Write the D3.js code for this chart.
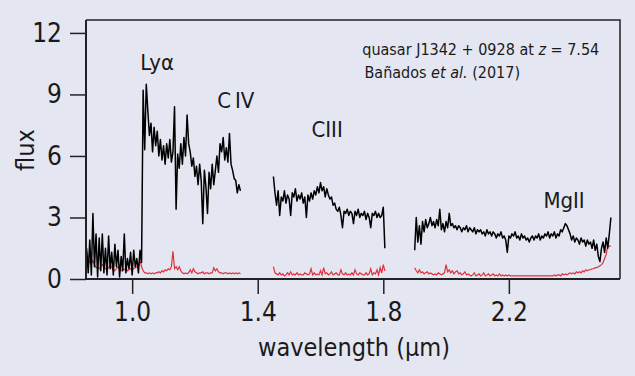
<!DOCTYPE html>
<html>
<head>
<meta charset="utf-8">
<script src="https://cdn.jsdelivr.net/npm/d3@7"></script>
<style>
  body { margin: 0; background: #e4e7f2; }
  text { font-family: "Liberation Sans Narrow", "DejaVu Sans Condensed", "Roboto", sans-serif; fill: #1a1a1a; }
</style>
</head>
<body>
<div id="main"></div>
<script>
// spectrum sampled every 0.005 micron, three pieces separated by telluric gaps
var step = 0.005;

var startA = 0.855;
var blackA = [
    1.5, 0.3, 1.9, 0.2, 3.2, 0.6, 2.2, 0.1, 2.0, 0.4,
    2.2, 0.3, 1.5, 0.2, 2.1, 0.5, 1.3, 0.2, 1.7, 0.6,
    1.4, 0.1, 1.1, 0.4, 2.2, 0.3, 1.0, 0.5, 1.3, 0.2,
    1.4, 0.6, 1.0, 0.3, 1.4, 0.8,
    9.2, 6.3, 9.5, 8.2, 7.0, 7.6, 6.2, 7.4, 6.5, 7.2,
    6.0, 6.8, 5.8, 6.5, 5.6, 6.6, 5.9, 6.8, 5.7, 6.2,
    8.4, 3.4, 6.1, 5.4, 6.6, 5.6, 6.9, 6.0, 8.0, 6.6,
    6.2, 5.5, 5.9, 5.0, 5.5, 4.6, 5.6, 4.8, 2.7, 5.3,
    4.5, 3.2, 5.2, 4.4, 5.6, 4.6, 5.3, 6.0, 5.2, 6.6,
    6.2, 6.9, 5.8, 6.4, 5.7, 7.1, 5.6, 5.3, 4.9, 4.8,
    4.2, 4.6, 4.3
];
var redA = [
    1.35, 1.0, 0.8, 0.75, 0.9, 0.7, 0.55, 0.6, 0.5, 0.6,
    0.7, 0.6, 0.5, 0.45, 0.55, 0.7, 0.55, 0.45, 0.4, 0.5,
    0.6, 0.45, 0.4, 0.5, 0.45, 0.55, 0.4, 0.45, 0.5, 0.45,
    0.5, 0.55, 0.6, 0.7, 0.9, 0.6,
    0.4, 0.3, 0.3, 0.25, 0.3, 0.25, 0.3, 0.25, 0.3, 0.3,
    0.35, 0.3, 0.4, 0.35, 0.45, 0.4, 0.5, 0.45, 0.6, 1.35,
    0.5, 0.6, 0.45, 0.6, 0.4, 0.3, 0.25, 0.3, 0.25, 0.3,
    0.45, 0.3, 0.5, 0.35, 0.3, 0.25, 0.3, 0.3, 0.35, 0.25,
    0.3, 0.3, 0.25, 0.3, 0.3, 0.55, 0.4, 0.5, 0.35, 0.3,
    0.3, 0.25, 0.3, 0.3, 0.25, 0.3, 0.25, 0.3, 0.25, 0.3,
    0.25, 0.3, 0.25
];

var startB = 1.45;
var blackB = [
    5.0, 4.2, 3.6, 4.3, 3.1, 4.0, 3.8, 4.3, 3.7, 4.1,
    3.9, 3.1, 4.2, 4.0, 4.4, 3.8, 4.1, 3.9, 4.2, 3.7,
    4.0, 3.0, 4.1, 3.8, 4.2, 3.9, 4.3, 4.1, 4.5, 4.2,
    4.7, 4.3, 4.5, 4.0, 4.4, 4.1, 3.9, 4.0, 3.6, 3.7,
    3.4, 3.3, 3.5, 3.1, 2.5, 3.3, 3.2, 3.4, 3.1, 3.3,
    3.2, 2.7, 3.3, 3.1, 3.4, 3.0, 3.2, 3.1, 3.3, 2.9,
    3.2, 3.0, 2.5, 3.2, 3.1, 3.3, 3.0, 3.2, 3.0, 3.1,
    3.5, 1.5
];
var redB = [
    0.6, 0.3, 0.25, 0.2, 0.3, 0.2, 0.25, 0.15, 0.2, 0.3,
    0.2, 0.35, 0.2, 0.25, 0.2, 0.3, 0.2, 0.25, 0.2, 0.2,
    0.3, 0.25, 0.2, 0.25, 0.5, 0.2, 0.3, 0.2, 0.25, 0.2,
    0.4, 0.2, 0.55, 0.25, 0.3, 0.2, 0.25, 0.35, 0.2, 0.25,
    0.3, 0.2, 0.2, 0.45, 0.25, 0.2, 0.3, 0.2, 0.25, 0.2,
    0.3, 0.2, 0.45, 0.25, 0.2, 0.3, 0.25, 0.2, 0.2, 0.3,
    0.2, 0.25, 0.5, 0.2, 0.3, 0.25, 0.45, 0.2, 0.55, 0.3,
    0.7, 0.4
];

var startC = 1.9;
var blackC = [
    1.4, 3.0, 1.8, 2.6, 1.7, 2.8, 2.3, 2.9, 2.5, 2.7,
    3.0, 2.6, 2.8, 2.5, 2.9, 2.6, 3.4, 2.4, 2.7, 2.3,
    2.8, 2.5, 3.2, 2.6, 2.7, 2.5, 2.6, 2.4, 2.6, 2.5,
    2.3, 2.5, 2.4, 2.6, 2.3, 2.5, 2.4, 2.3, 2.5, 2.2,
    2.4, 2.3, 2.4, 2.2, 2.3, 2.1, 2.4, 2.2, 2.3, 2.1,
    2.3, 2.2, 2.0, 2.2, 2.1, 2.3, 2.0, 2.1, 1.9, 1.3,
    2.1, 2.0, 2.2, 2.1, 2.3, 2.0, 2.1, 1.9, 2.2, 2.0,
    2.1, 1.9, 2.0, 1.8, 2.0, 2.1, 1.9, 2.1, 2.0, 2.2,
    1.9, 2.1, 2.0, 2.2, 2.1, 2.3, 2.0, 2.2, 2.1, 2.3,
    2.0, 2.2, 2.1, 2.4, 2.3, 2.5, 2.7, 2.6, 2.4, 2.2,
    1.9, 2.1, 1.8, 2.0, 1.9, 1.7, 2.0, 1.8, 1.9, 1.6,
    1.9, 1.7, 1.8, 1.5, 1.9, 1.4, 1.7, 1.1, 0.85, 1.5,
    1.8, 1.3, 2.0, 1.5, 2.2, 3.0
];
var redC = [
    0.55, 0.4, 0.3, 0.45, 0.3, 0.35, 0.25, 0.3, 0.35, 0.25,
    0.3, 0.25, 0.2, 0.25, 0.2, 0.3, 0.25, 0.2, 0.25, 0.3,
    0.7, 0.35, 0.45, 0.3, 0.4, 0.25, 0.35, 0.4, 0.25, 0.3,
    0.2, 0.25, 0.35, 0.2, 0.25, 0.2, 0.15, 0.2, 0.3, 0.15,
    0.2, 0.25, 0.15, 0.2, 0.3, 0.15, 0.2, 0.25, 0.15, 0.2,
    0.25, 0.15, 0.2, 0.15, 0.25, 0.15, 0.2, 0.15, 0.2, 0.15,
    0.2, 0.15, 0.15, 0.15, 0.15, 0.15, 0.15, 0.15, 0.15, 0.15,
    0.15, 0.15, 0.15, 0.15, 0.15, 0.15, 0.15, 0.15, 0.15, 0.15,
    0.15, 0.15, 0.15, 0.15, 0.15, 0.15, 0.15, 0.15, 0.15, 0.2,
    0.15, 0.2, 0.2, 0.15, 0.25, 0.2, 0.25, 0.2, 0.25, 0.3,
    0.25, 0.3, 0.25, 0.35, 0.3, 0.35, 0.3, 0.4, 0.35, 0.45,
    0.4, 0.45, 0.45, 0.5, 0.5, 0.55, 0.55, 0.6, 0.65, 0.7,
    0.8, 1.0, 1.2, 1.6, 1.6, 1.6
];

var xTicks = [1.0, 1.4, 1.8, 2.2];
var xTickLabels = ["1.0", "1.4", "1.8", "2.2"];
var yTicks = [0, 3, 6, 9, 12];

var ctx = {
    w: 635,
    h: 376,
    left: 86, right: 620, top: 20, bottom: 279,
    xMin: 0.853, xMax: 2.554,
    yMax: 12.63
};

var toPoints = function (start, vals) {
    return vals.map(function (v, i) { return [start + i * step, v]; });
};

var createViz = function () {
    var svg = d3.select("#main").append("svg")
        .attr("width", ctx.w)
        .attr("height", ctx.h);

    svg.append("rect").attr("width", ctx.w).attr("height", ctx.h).attr("fill", "#e4e7f2");

    var x = d3.scaleLinear().domain([ctx.xMin, ctx.xMax]).range([ctx.left, ctx.right]);
    var y = d3.scaleLinear().domain([0, ctx.yMax]).range([ctx.bottom, ctx.top]);

    var line = d3.line()
        .x(function (d) { return x(d[0]); })
        .y(function (d) { return y(d[1]); });

    var pieces = [
        [startA, blackA, redA],
        [startB, blackB, redB],
        [startC, blackC, redC]
    ];

    pieces.forEach(function (p) {
        svg.append("path")
            .datum(toPoints(p[0], p[2]))
            .attr("d", line)
            .attr("fill", "none")
            .attr("stroke", "#e0303a")
            .attr("stroke-width", 1.2);
    });
    pieces.forEach(function (p) {
        svg.append("path")
            .datum(toPoints(p[0], p[1]))
            .attr("d", line)
            .attr("fill", "none")
            .attr("stroke", "#000")
            .attr("stroke-width", 1.5)
            .attr("stroke-linejoin", "round");
    });

    // frame
    svg.append("path")
        .attr("d", "M" + ctx.left + "," + ctx.top + "H" + ctx.right + "V" + ctx.bottom)
        .attr("fill", "none").attr("stroke", "#222").attr("stroke-width", 1.5);

    var yAxis = svg.append("g")
        .attr("transform", "translate(" + ctx.left + ",0)")
        .call(d3.axisLeft(y).tickValues(yTicks).tickSize(16).tickPadding(8).tickSizeOuter(0));
    var xAxis = svg.append("g")
        .attr("transform", "translate(0," + ctx.bottom + ")")
        .call(d3.axisBottom(x).tickValues(xTicks).tickFormat(function (d, i) { return xTickLabels[i]; })
            .tickSize(15).tickPadding(9).tickSizeOuter(0));

    [yAxis, xAxis].forEach(function (a) {
        a.select(".domain").attr("stroke", "#222").attr("stroke-width", 2);
        a.selectAll(".tick line").attr("stroke", "#222").attr("stroke-width", 1.5);
        a.selectAll(".tick text").style("font-size", "26px").attr("fill", "#1a1a1a");
    });
    yAxis.select(".domain").attr("d", "M0," + ctx.top + "V" + ctx.bottom);
    xAxis.select(".domain").attr("d", "M" + ctx.left + ",0H" + ctx.right);

    svg.append("text")
        .attr("transform", "translate(34,150) rotate(-90)")
        .attr("text-anchor", "middle")
        .style("font-size", "25px")
        .text("flux");

    svg.append("text")
        .attr("x", 354).attr("y", 356)
        .attr("text-anchor", "middle")
        .style("font-size", "25px")
        .text("wavelength (\u03bcm)");

    // emission line labels
    var lab = function (wl, f, s) {
        svg.append("text").attr("x", x(wl)).attr("y", y(f)).style("font-size", "22px").text(s);
    };
    lab(1.026, 10.2, "Ly\u03b1");
    lab(1.271, 8.34, "C\u2009IV");
    lab(1.571, 6.93, "CIII");
    lab(2.31, 3.46, "MgII");

    var t1 = svg.append("text").attr("x", x(1.733)).attr("y", y(10.93)).style("font-size", "16px");
    t1.append("tspan").text("quasar J1342 + 0928 at ");
    t1.append("tspan").style("font-style", "italic").text("z");
    t1.append("tspan").text(" = 7.54");

    var t2 = svg.append("text").attr("x", x(1.74)).attr("y", y(9.8)).style("font-size", "16px");
    t2.append("tspan").text("Ba\u00f1ados ");
    t2.append("tspan").style("font-style", "italic").text("et al.");
    t2.append("tspan").text(" (2017)");
};

createViz();
</script>
</body>
</html>
